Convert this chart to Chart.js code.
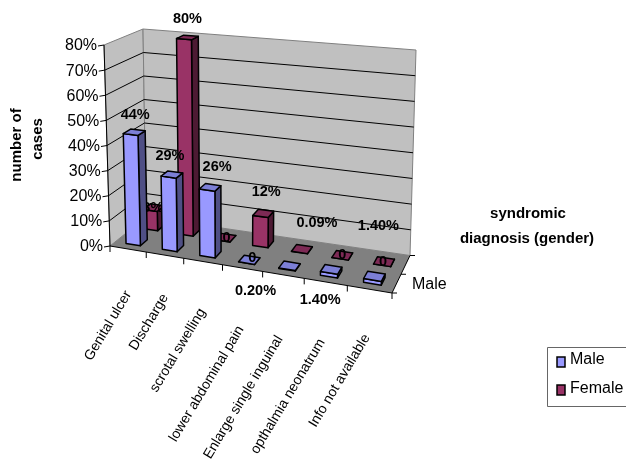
<!DOCTYPE html>
<html>
<head>
<meta charset="utf-8">
<title>Syndromic diagnosis by gender</title>
<script src="https://cdn.jsdelivr.net/npm/chart.js@4"></script>
<style>
  html, body { margin: 0; padding: 0; background: #fff; }
  canvas { display: block; }
</style>
</head>
<body>
<canvas id="chart" width="626" height="459"></canvas>
<script>
const categories = ['Genital ulcer', 'Discharge', 'scrotal swelling', 'lower abdominal pain', 'Enlarge single inguinal', 'opthalmia neonatrum', 'Info not available'];
const maleValues = [44, 29, 26, 0, 0.2, 1.4, 1.4];
const femaleValues = [8, 80, 0, 12, 0.09, 0, 0];
const maleLabels = ['44%', '29%', '26%', '0', '0.20%', '1.40%', '1.40%'];
const femaleLabels = ['8%', '80%', '0', '12%', '0.09%', '0', '0'];
const valueTicks = [0, 10, 20, 30, 40, 50, 60, 70, 80];

// label nudges from the bar top, the original chart had them dragged around
const maleLabelShift = [[1, -17], [-2, -19], [7, -20], [3, -2], [-34, 25], [-11, 31], [4, -50]];
const femaleLabelShift = [[-1, 0], [0, -18], [1, 0], [3, -21], [15, -26], [0, 0], [-1, 0]];
// end of each slanted category label, from the centre of its slot on the front edge
const categoryLabelShift = [[-3, 41], [-3, 38], [-4, 46], [-5, 57], [-7, 60], [-7, 56], [-6, 44]];

// corners of the 3D box on screen
const box = {
  flb: [110, 246], frb: [392, 293], blb: [146, 217], brb: [410, 255.5],
  flt: [104, 45], frt: [400, 74], blt: [143, 29], brt: [416, 50]
};
const perspective = 1.13;
const barHalfWidth = 0.2 / 7;
const barHalfDepth = 0.1;
const maleDepth = 0.25;
const femaleDepth = 0.75;
const font = '"Liberation Sans", Arial, sans-serif';

const maleColors = { front: '#9999ff', top: '#7c7fd6', side: '#4f4f85' };
const femaleColors = { front: '#993366', top: '#7d2a55', side: '#4d1a33' };

function mix(a, b, t) {
  return [a[0] + (b[0] - a[0]) * t, a[1] + (b[1] - a[1]) * t];
}

// u along the categories, d front to back, h floor to top (all 0..1)
function project(u, d, h) {
  const k = u / (u + (1 - u) * perspective);
  const bottom = mix(mix(box.flb, box.frb, k), mix(box.blb, box.brb, k), d);
  const top = mix(mix(box.flt, box.frt, k), mix(box.blt, box.brt, k), d);
  return mix(bottom, top, h);
}

function poly(ctx, pts, fill, stroke, lineWidth) {
  ctx.beginPath();
  pts.forEach((p, i) => i ? ctx.lineTo(p[0], p[1]) : ctx.moveTo(p[0], p[1]));
  ctx.closePath();
  if (fill) {
    ctx.fillStyle = fill;
    ctx.fill();
  }
  if (stroke) {
    ctx.strokeStyle = stroke;
    ctx.lineWidth = lineWidth || 1;
    ctx.stroke();
  }
}

function line(ctx, a, b, color, lineWidth) {
  ctx.beginPath();
  ctx.moveTo(a[0], a[1]);
  ctx.lineTo(b[0], b[1]);
  ctx.strokeStyle = color;
  ctx.lineWidth = lineWidth || 1;
  ctx.stroke();
}

function text(ctx, str, x, y, style, align) {
  ctx.font = style;
  ctx.fillStyle = '#000';
  ctx.textAlign = align || 'center';
  ctx.textBaseline = 'middle';
  ctx.fillText(str, x, y);
}

function drawBox(chart, ctx) {
  const y = chart.scales.y;
  const area = chart.chartArea;
  poly(ctx, [box.flb, box.flt, box.blt, box.blb], '#c0c0c0', '#808080');
  poly(ctx, [box.blb, box.blt, box.brt, box.brb], '#c0c0c0', '#808080');
  poly(ctx, [box.flb, box.blb, box.brb, box.frb], '#808080');

  valueTicks.forEach(v => {
    const h = (area.bottom - y.getPixelForValue(v)) / area.height;
    if (v > 0 && v < 80) {
      line(ctx, project(0, 0, h), project(0, 1, h), '#000');
      line(ctx, project(0, 1, h), project(1, 1, h), '#000');
    }
    const p = project(0, 0, h);
    line(ctx, p, [p[0] - 6, p[1] + 1], '#000');
    text(ctx, v + '%', p[0] - 7, p[1] + 1, '16px ' + font, 'right');
  });

  line(ctx, box.flb, box.flt, '#000');
  line(ctx, box.flb, box.frb, '#000');
  line(ctx, box.frb, box.brb, '#000');

  // category ticks sit between the slots
  for (let i = 0; i <= categories.length; i++) {
    const p = project(i / categories.length, 0, 0);
    line(ctx, p, [p[0], p[1] + 6], '#000');
  }
  // depth axis only has the one label
  [0, 0.5, 1].forEach(d => {
    const p = project(1, d, 0);
    line(ctx, p, [p[0] + 5, p[1]], '#000');
  });
  const male = project(1, 0.5, 0);
  text(ctx, 'Male', male[0] + 11, male[1] + 10, '16px ' + font, 'left');
}

function drawCategoryLabels(chart, ctx) {
  const x = chart.scales.x;
  const area = chart.chartArea;
  categories.forEach((name, i) => {
    const u = (x.getPixelForValue(i) - area.left) / area.width;
    const p = project(u, 0, 0);
    ctx.save();
    ctx.translate(p[0] + categoryLabelShift[i][0], p[1] + categoryLabelShift[i][1]);
    ctx.rotate(-59 * Math.PI / 180);
    text(ctx, name, 0, 4, '14px ' + font, 'right');
    ctx.restore();
  });
}

function drawSeries(chart, ctx, values, labels, shifts, depth, colors) {
  const x = chart.scales.x;
  const y = chart.scales.y;
  const area = chart.chartArea;
  values.forEach((v, i) => {
    const u = (x.getPixelForValue(i) - area.left) / area.width;
    const h = (area.bottom - y.getPixelForValue(v)) / area.height;
    const u0 = u - barHalfWidth, u1 = u + barHalfWidth;
    const d0 = depth - barHalfDepth, d1 = depth + barHalfDepth;
    ctx.lineJoin = 'round';
    poly(ctx, [project(u1, d0, 0), project(u1, d1, 0), project(u1, d1, h), project(u1, d0, h)], colors.side, '#000', 1.5);
    poly(ctx, [project(u0, d0, 0), project(u1, d0, 0), project(u1, d0, h), project(u0, d0, h)], colors.front, '#000', 1.5);
    poly(ctx, [project(u0, d0, h), project(u1, d0, h), project(u1, d1, h), project(u0, d1, h)], colors.top, '#000', 1.5);
    const p = project(u, depth, h);
    text(ctx, labels[i], p[0] + shifts[i][0], p[1] + shifts[i][1], 'bold 14.5px ' + font);
  });
}

function drawLegend(ctx) {
  poly(ctx, [[547.5, 347.5], [640, 347.5], [640, 406.5], [547.5, 406.5]], '#fff', '#666');
  ctx.lineJoin = 'miter';
  poly(ctx, [[557, 357], [565, 357], [565, 367], [557, 367]], maleColors.front, '#000', 1.5);
  poly(ctx, [[557, 385], [565, 385], [565, 395], [557, 395]], femaleColors.front, '#000', 1.5);
  text(ctx, 'Male', 570, 360, '16px ' + font, 'left');
  text(ctx, 'Female', 570, 389, '16px ' + font, 'left');
}

function drawTitles(ctx) {
  const style = 'bold 15px ' + font;
  ctx.save();
  ctx.translate(17, 145);
  ctx.rotate(-Math.PI / 2);
  text(ctx, 'number of', 0, 0, style);
  ctx.restore();
  ctx.save();
  ctx.translate(38, 139);
  ctx.rotate(-Math.PI / 2);
  text(ctx, 'cases', 0, 0, style);
  ctx.restore();
  text(ctx, 'syndromic', 528, 214, style);
  text(ctx, 'diagnosis (gender)', 527, 239, style);
}

// Chart.js has no 3D bars, so the scales are kept and the box is drawn through them
const box3d = {
  id: 'box3d',
  beforeDatasetsDraw(chart) {
    const ctx = chart.ctx;
    ctx.save();
    drawBox(chart, ctx);
    drawCategoryLabels(chart, ctx);
    drawSeries(chart, ctx, femaleValues, femaleLabels, femaleLabelShift, femaleDepth, femaleColors);
    drawSeries(chart, ctx, maleValues, maleLabels, maleLabelShift, maleDepth, maleColors);
    drawTitles(ctx);
    drawLegend(ctx);
    ctx.restore();
    return false;
  }
};

new Chart(document.getElementById('chart').getContext('2d'), {
  type: 'bar',
  data: {
    labels: categories,
    datasets: [
      { label: 'Male', data: maleValues, backgroundColor: maleColors.front },
      { label: 'Female', data: femaleValues, backgroundColor: femaleColors.front }
    ]
  },
  options: {
    responsive: false,
    animation: false,
    events: [],
    layout: { padding: 0 },
    plugins: { legend: { display: false }, tooltip: { enabled: false } },
    scales: {
      x: { type: 'category', display: false },
      y: { type: 'linear', display: false, min: 0, max: 80 }
    }
  },
  plugins: [box3d]
});
</script>
</body>
</html>
